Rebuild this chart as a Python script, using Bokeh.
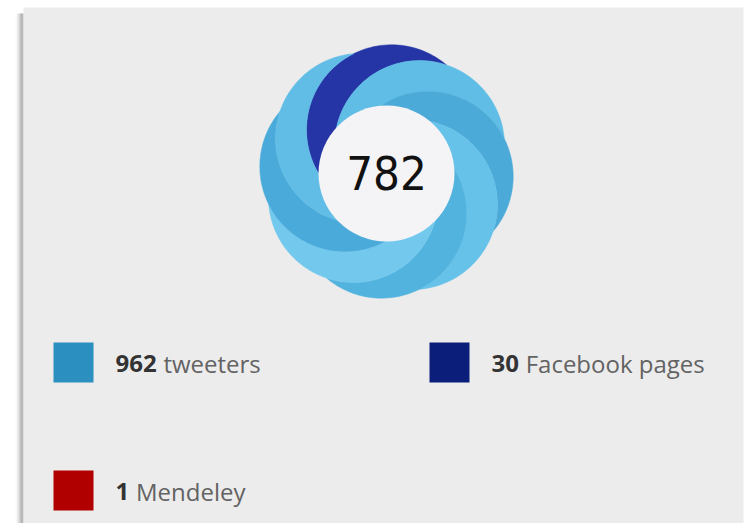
import numpy as np
from bokeh.plotting import figure
from bokeh.models import Range1d
from bokeh.core.properties import value
from bokeh.embed import file_html
from bokeh.resources import INLINE

# ---- data ----
sources = ["tweeters", "Facebook pages", "Mendeley"]
counts = [962, 30, 1]
legend_colors = ["#2b8fc0", "#0b1f7a", "#b00000"]
score = 782
# donut petals, clockwise from the top
petal_sources = ["Facebook pages", "tweeters", "tweeters", "tweeters",
                 "tweeters", "tweeters", "tweeters", "tweeters"]
petal_colors = ["#2535a6", "#5fbde6", "#4caad9", "#66c2e9",
                "#52b3df", "#72c9ed", "#4aabdb", "#61bde6"]

W, H = 748, 523
p = figure(width=W, height=H, x_range=Range1d(0, W), y_range=Range1d(H, 0),
           output_backend="svg", toolbar_location=None, min_border=0)
p.axis.visible = False
p.grid.visible = False
p.outline_line_color = None
p.background_fill_color = "white"
p.border_fill_color = "white"

# panel + left shadow
px0, py0, px1 = 23, 7, 743
shade = ["#fbfbfb", "#f2f2f2", "#e4e4e4", "#d2d2d2", "#bdbdbd", "#a9a9a9", "#9a9a9a", "#a5a5a5"]
for i, c in enumerate(shade):
    p.quad(left=px0 - len(shade) + i, right=px0 - len(shade) + i + 1, top=py0 + 6, bottom=H,
           fill_color=c, line_color=None)
p.quad(left=px0, right=px1, top=py0, bottom=H, fill_color="#ececec", line_color=None)

# donut (swirl of overlapping circles)
cx, cy = 386, 171
R_out, r_in = 127, 68
d = 42
rho = R_out - d
n = len(petal_colors)
step = 2 * np.pi / n
theta0 = np.pi / 2 - 0.12


def circ_pts(c, a0, a1, num=90):
    t = np.linspace(a0, a1, num)
    return c[0] + rho * np.cos(t), c[1] + rho * np.sin(t)


def lune(k):
    ta = theta0 - k * step
    tb = ta - step
    c0 = np.array([d * np.cos(ta), d * np.sin(ta)])
    c1 = np.array([d * np.cos(tb), d * np.sin(tb)])
    mid = (c0 + c1) / 2
    dv = c1 - c0
    half = np.linalg.norm(dv) / 2
    h = np.sqrt(rho ** 2 - half ** 2)
    perp = np.array([-dv[1], dv[0]]) / np.linalg.norm(dv)
    P1, P2 = mid + h * perp, mid - h * perp
    P, Q = (P1, P2) if np.linalg.norm(P1) > np.linalg.norm(P2) else (P2, P1)
    aP = np.arctan2(*(P - c0)[::-1]); aQ = np.arctan2(*(Q - c0)[::-1])
    a_end = None
    for cand in (aQ, aQ + 2 * np.pi, aQ - 2 * np.pi):
        m = (aP + cand) / 2
        pt = c0 + rho * np.array([np.cos(m), np.sin(m)])
        if abs(cand - aP) < 2 * np.pi and np.linalg.norm(pt - c1) > rho:
            a_end = cand
            break
    x0, y0 = circ_pts(c0, aP, a_end)
    bQ = np.arctan2(*(Q - c1)[::-1]); bP = np.arctan2(*(P - c1)[::-1])
    b_end = None
    for cand in (bP, bP + 2 * np.pi, bP - 2 * np.pi):
        m = (bQ + cand) / 2
        pt = c1 + rho * np.array([np.cos(m), np.sin(m)])
        if abs(cand - bQ) < 2 * np.pi and np.linalg.norm(pt - c0) < rho:
            b_end = cand
            break
    x1, y1 = circ_pts(c1, bQ, b_end)
    xs = np.concatenate([x0, x1])
    ys = np.concatenate([y0, y1])
    return list(cx + xs), list(cy - ys)


xs_all, ys_all = [], []
for k in range(n):
    x, y = lune(k)
    xs_all.append(x)
    ys_all.append(y)
p.patches(xs_all, ys_all, fill_color=petal_colors, line_color=petal_colors, line_width=0.5)

p.circle(x=[cx], y=[cy + 2], radius=r_in, fill_color="#f4f4f6", line_color=None)
p.text(x=[cx], y=[cy + 1], text=[str(score)], text_align="center", text_baseline="middle",
       text_font=value("DejaVu Sans Condensed"), text_font_size="47px", text_color="#111111")

# legend
fs = 24
col_x = [53, 429]
row_y = [342, 470]
sq = 40
for i, (s, c, col) in enumerate(zip(sources, counts, legend_colors)):
    lx = col_x[i % 2]
    ly = row_y[i // 2]
    p.quad(left=lx, right=lx + sq, top=ly, bottom=ly + sq, fill_color=col, line_color=None)
    tx = lx + sq + 22
    num = str(c)
    p.text(x=[tx], y=[ly + sq / 2 + 1], text=[num], text_baseline="middle",
           text_font=value("Open Sans"), text_font_style="bold", text_font_size=f"{fs}px",
           text_color="#333333")
    off = len(num) * 0.572 * fs + 0.28 * fs
    p.text(x=[tx + off], y=[ly + sq / 2 + 1], text=[s], text_baseline="middle",
           text_font=value("Open Sans"), text_font_size=f"{fs}px", text_color="#636363")

open("out.html", "w").write(file_html(p, INLINE))
